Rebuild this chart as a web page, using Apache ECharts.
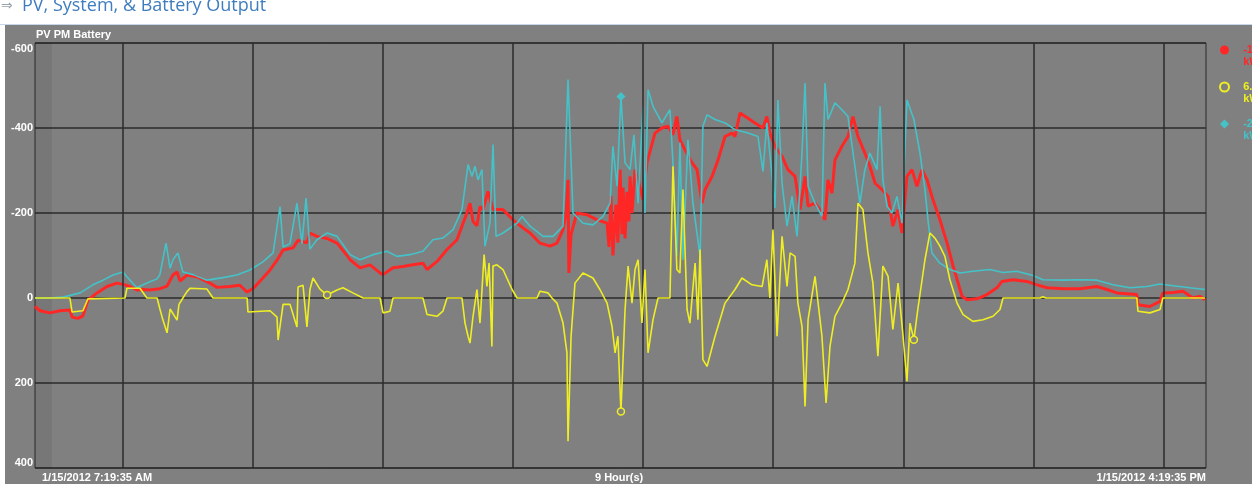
<!DOCTYPE html>
<html>
<head>
<meta charset="utf-8">
<script src="https://cdn.jsdelivr.net/npm/echarts@6/dist/echarts.min.js"></script>
<style>
  html, body { margin: 0; padding: 0; background: #fff; }
  #chart { width: 1252px; height: 484px; }
</style>
</head>
<body>
<div id="chart"></div>
<script>
// minutes after 7:19:35 AM, kW (negative = output, axis drawn inverted)
const pvOutput = [[0,20],[2.3,30],[6.9,35],[11.5,30],[16.1,28],[17.1,45],[19.8,48],[22.1,42],[24.4,5],[28.6,-12],[33.2,-27],[37.8,-35],[40.6,-32],[43.8,-27],[47.0,-19],[49.8,-20],[53.0,-19],[57.6,-22],[60.9,-28],[63.6,-54],[65.5,-61],[66.9,-40],[70.1,-54],[74.7,-50],[80.7,-35],[83.9,-25],[89.9,-27],[94.5,-30],[97.8,-14],[100.5,-22],[105.1,-47],[108.4,-66],[111.6,-89],[114.4,-113],[119.0,-118],[121.3,-136],[125.4,-130],[126.8,-153],[130.0,-145],[134.7,-140],[139.3,-129],[143.9,-100],[145.3,-90],[149.9,-71],[154.5,-78],[159.1,-59],[160.5,-55],[165.1,-71],[169.7,-74],[174.3,-78],[178.9,-82],[180.8,-67],[185.4,-86],[190.0,-114],[194.6,-137],[197.4,-176],[199.2,-200],[200.6,-223],[202.0,-180],[203.8,-170],[205.2,-215],[206.6,-208],[208.9,-251],[211.2,-208],[215.8,-208],[220.4,-184],[225.0,-165],[228.3,-153],[232.9,-129],[237.5,-122],[240.7,-129],[243.5,-161],[244.9,-200],[245.8,-278],[246.2,-59],[247.2,-150],[249.9,-200],[254.5,-196],[259.2,-184],[263.8,-176],[264.7,-120],[265.6,-240],[266.5,-100],[267.9,-220],[268.8,-130],[269.8,-302],[270.7,-150],[271.2,-260],[272.1,-140],[273.0,-250],[273.9,-180],[274.4,-286],[275.3,-200],[276.7,-302],[278.1,-278],[280.4,-231],[282.2,-318],[285.9,-388],[289.1,-400],[291.9,-404],[294.2,-384],[296.0,-427],[297.4,-372],[299.7,-349],[303.0,-318],[305.3,-302],[307.6,-223],[309.0,-255],[312.2,-286],[315.0,-325],[318.2,-380],[321.4,-388],[322.8,-380],[325.1,-435],[328.8,-423],[332.0,-412],[335.7,-400],[337.5,-427],[338.9,-388],[341.2,-357],[344.5,-333],[347.2,-302],[350.5,-286],[352.8,-208],[355.1,-286],[356.5,-216],[359.7,-223],[362.0,-208],[364.3,-184],[365.7,-278],[367.5,-247],[368.9,-325],[372.1,-357],[374.9,-380],[377.2,-427],[379.5,-380],[382.7,-341],[385.0,-310],[387.4,-270],[390.6,-255],[393.4,-239],[395.6,-169],[398.0,-208],[399.8,-153],[402.1,-286],[404.4,-302],[406.7,-263],[409.0,-302],[411.4,-278],[414.1,-231],[417.3,-184],[420.6,-129],[423.4,-75],[425.7,-35],[427.5,-4],[429.8,4],[434.4,2],[439.0,-8],[443.6,-24],[445.9,-39],[451.0,-43],[457.4,-39],[462.1,-31],[466.7,-24],[474.1,-22],[481.9,-22],[489.7,-27],[494.3,-20],[498.9,-12],[508.1,-8],[508.6,16],[514.1,20],[518.8,8],[520.1,-12],[524.8,-13],[529.4,-16],[534.0,0],[537.2,-4],[539.5,4]]

const pmOutput = [[0,0],[16.1,0],[17.1,33],[22.1,30],[24.4,2],[41.5,0],[42.4,-23],[48.4,-23],[51.6,0],[56.3,0],[57.6,26],[59.0,52],[60.9,82],[62.3,26],[65.5,52],[66.4,15],[68.2,0],[70.1,-15],[71.5,-23],[79.3,-21],[82.1,0],[97.8,0],[98.2,33],[108.4,30],[111.6,45],[112.1,99],[114.4,15],[117.6,15],[120.8,68],[121.3,-26],[123.6,-30],[125.4,68],[126.8,-20],[128.2,-47],[131.4,-21],[134.7,-7],[139.3,-19],[142.0,-24],[146.6,-12],[151.3,0],[159.1,0],[160.5,35],[163.7,31],[165.1,0],[178.9,0],[180.8,39],[185.4,43],[188.1,31],[190.0,0],[196.9,0],[198.3,59],[199.7,90],[200.6,106],[202.0,43],[203.8,-20],[205.2,59],[207.1,-102],[208.4,-27],[209.4,-82],[210.7,114],[211.2,-75],[213.0,-78],[215.8,-67],[220.0,-20],[222.3,0],[231.5,0],[232.9,-16],[236.6,-12],[238.4,0],[240.7,12],[243.5,59],[245.3,129],[245.8,337],[247.2,90],[249.0,-35],[252.7,-59],[257.3,-47],[260.5,-20],[263.8,12],[266.1,67],[267.5,129],[268.8,90],[270.2,267],[272.1,27],[273.5,-75],[275.3,12],[276.7,-67],[278.1,-90],[279.9,59],[281.3,-67],[282.7,129],[285.0,51],[287.3,0],[292.8,0],[294.2,-310],[296.0,-67],[297.4,-59],[298.8,-255],[300.7,27],[302.0,59],[304.4,-82],[305.7,51],[306.7,-114],[308.0,145],[309.9,161],[313.6,90],[318.2,12],[322.8,-20],[326.0,-47],[330.6,-31],[335.3,-27],[337.5,-90],[338.9,0],[340.3,-161],[342.2,90],[344.5,-145],[346.8,-27],[348.2,-106],[350.5,-98],[351.8,12],[353.7,67],[355.1,255],[356.5,51],[359.7,-51],[362.9,90],[364.8,247],[366.6,114],[368.9,43],[372.1,12],[374.9,-20],[378.1,-82],[379.5,-223],[381.8,-208],[384.1,-106],[386.4,-35],[388.7,137],[391.0,-75],[393.4,-51],[395.6,74],[398.0,-35],[400.3,90],[402.1,196],[403.5,59],[405.3,98],[407.1,27],[410.4,-90],[412.7,-153],[415.0,-141],[417.3,-122],[419.6,-98],[421.9,-43],[425.2,12],[428.0,39],[432.5,55],[437.2,51],[441.8,43],[445.0,27],[446.4,0],[463.4,0],[464.8,-3],[466.2,0],[508.1,0],[508.6,31],[514.1,35],[518.8,27],[520.1,0],[539.5,0]]

const batteryOutput = [[0,0],[6.9,0],[12.9,-2],[20.8,-12],[26.7,-31],[31.4,-42],[36.0,-54],[40.6,-61],[42.4,-50],[47.0,-24],[49.8,-31],[53.0,-38],[56.3,-45],[57.6,-55],[60.4,-129],[62.3,-70],[63.6,-90],[65.9,-106],[68.2,-61],[72.9,-55],[79.3,-42],[86.7,-48],[93.1,-54],[99.1,-66],[105.1,-85],[109.8,-106],[113.0,-215],[114.4,-120],[117.6,-128],[120.8,-223],[123.1,-128],[125.0,-235],[126.8,-115],[130.0,-137],[134.7,-153],[139.3,-145],[145.3,-102],[149.9,-90],[155.9,-102],[162.3,-110],[166.9,-98],[172.9,-102],[178.9,-110],[183.5,-137],[188.1,-141],[192.8,-161],[196.9,-208],[199.7,-314],[201.5,-286],[202.9,-310],[204.3,-278],[206.1,-302],[207.5,-122],[209.8,-176],[211.2,-361],[212.6,-145],[215.8,-153],[222.3,-176],[224.6,-192],[228.3,-169],[234.3,-145],[238.9,-145],[243.5,-169],[245.8,-514],[248.1,-200],[252.7,-176],[257.3,-172],[261.9,-192],[265.2,-223],[266.5,-357],[268.4,-263],[270.2,-474],[272.1,-318],[274.4,-302],[276.2,-384],[278.1,-223],[280.4,-451],[281.3,-200],[282.7,-490],[285.0,-451],[289.1,-412],[292.8,-443],[294.2,-318],[296.0,-98],[297.4,-365],[298.8,-90],[301.1,-372],[303.4,-223],[306.7,-98],[308.0,-404],[309.9,-431],[313.6,-420],[318.2,-412],[322.8,-396],[328.8,-388],[333.4,-380],[335.7,-298],[337.5,-412],[339.9,-286],[341.2,-212],[342.6,-466],[344.5,-270],[346.8,-169],[349.1,-239],[351.4,-145],[353.7,-341],[355.1,-506],[356.5,-263],[359.7,-223],[362.9,-192],[364.3,-506],[365.7,-420],[368.9,-459],[372.1,-443],[374.9,-427],[378.1,-310],[380.4,-223],[382.7,-302],[385.0,-341],[388.3,-302],[389.7,-451],[391.0,-278],[392.9,-216],[395.2,-200],[397.5,-239],[399.8,-176],[402.1,-466],[405.3,-420],[408.1,-341],[410.4,-255],[411.8,-184],[413.6,-106],[417.3,-82],[421.9,-67],[426.6,-59],[432.5,-63],[440.4,-67],[446.4,-60],[452.8,-63],[460.2,-53],[464.8,-43],[474.1,-42],[481.9,-43],[489.7,-42],[497.1,-31],[504.9,-24],[512.8,-27],[518.8,-33],[524.8,-29],[532.6,-24],[539.5,-20]]

const seriesNames = ['PV', 'PM', 'Battery']
const legendReadings = ['-10.8', '6.3', '-21.5']
const pmMarkTimes = [134.7, 270.2, 405.3]
const batteryMarkTimes = [270.2]
const hourTicks = [8, 9, 10, 11, 12, 13, 14, 15, 16]
const startClock = 7 * 60 + 19 + 35 / 60
const spanMinutes = 540
const earlyBandEnd = 7.8
const startLabel = '1/15/2012 7:19:35 AM'
const endLabel = '1/15/2012 4:19:35 PM'
const spanLabel = '9 Hour(s)'

const hourLines = hourTicks.map(h => h * 60 - startClock)

const colors = ['#ff2626', '#eeee22', '#44c2c8']
const panelGray = '#808080'

const chart = echarts.init(document.getElementById('chart'))

const option = {
  backgroundColor: panelGray,
  animation: false,
  grid: {
    left: 35, top: 43, right: 46, bottom: 16,
    show: true,
    backgroundColor: panelGray,
    borderColor: '#2b2b2b',
    borderWidth: 1
  },
  legend: {
    orient: 'vertical',
    left: 1219,
    top: 32,
    padding: 0,
    itemGap: 1,
    itemWidth: 9,
    itemHeight: 9,
    textStyle: { fontSize: 11, fontWeight: 'bold', lineHeight: 12, fontFamily: 'Liberation Sans, Arial' },
    // blank first line keeps the icon level with the reading line
    formatter: name => '\n   ' + legendReadings[seriesNames.indexOf(name)] + '\n   kW',
    data: [
      { name: seriesNames[0], icon: 'circle', textStyle: { color: colors[0] } },
      { name: seriesNames[1], icon: 'circle', itemStyle: { color: panelGray, borderColor: colors[1], borderWidth: 2 }, textStyle: { color: colors[1] } },
      { name: seriesNames[2], icon: 'diamond', textStyle: { color: colors[2] } }
    ]
  },
  xAxis: {
    type: 'value',
    min: 0,
    max: spanMinutes,
    axisLine: { show: false },
    axisTick: { show: false },
    axisLabel: { show: false },
    splitLine: { show: false }
  },
  yAxis: {
    type: 'value',
    inverse: true,
    min: -600,
    max: 400,
    interval: 200,
    axisLine: { show: false },
    axisTick: { show: false },
    axisLabel: {
      color: '#fff',
      fontSize: 11,
      fontWeight: 'bold',
      fontFamily: 'Liberation Sans, Arial',
      margin: 2,
      verticalAlignMinLabel: 'top',
      verticalAlignMaxLabel: 'bottom'
    },
    splitLine: { lineStyle: { color: '#2b2b2b', width: 1.5 } }
  },
  graphic: [
    { type: 'rect', left: 0, top: 0, shape: { width: 1252, height: 24 }, style: { fill: '#fff' } },
    { type: 'rect', left: 0, top: 24, shape: { width: 1252, height: 1 }, style: { fill: '#c6d7ea' } },
    { type: 'rect', left: 0, top: 25, shape: { width: 5, height: 459 }, style: { fill: '#fff' } },
    { type: 'text', left: 1, top: -1, style: { text: '⇒', fill: '#9aa3ad', font: '14px "DejaVu Sans", sans-serif' } },
    { type: 'text', left: 22, top: -3, style: { text: 'PV, System, & Battery Output', fill: '#3f7dbf', font: '18px "Open Sans", sans-serif' } },
    { type: 'text', left: 36, top: 29, style: { text: 'PV PM Battery', fill: '#fff', font: 'bold 11px "Liberation Sans", Arial' } },
    { type: 'text', left: 42, top: 472, style: { text: startLabel, fill: '#fff', font: 'bold 11px "Liberation Sans", Arial' } },
    { type: 'text', left: 595, top: 472, style: { text: spanLabel, fill: '#fff', font: 'bold 11px "Liberation Sans", Arial' } },
    { type: 'text', right: 46, top: 472, style: { text: endLabel, fill: '#fff', font: 'bold 11px "Liberation Sans", Arial' } }
  ],
  series: [
    {
      name: 'hours',
      type: 'line',
      data: [],
      z: 1,
      silent: true,
      markArea: {
        silent: true,
        itemStyle: { color: 'rgba(0,0,0,0.07)' },
        data: [[{ xAxis: 0 }, { xAxis: earlyBandEnd }]]
      },
      markLine: {
        silent: true,
        symbol: ['none', 'none'],
        label: { show: false },
        lineStyle: { color: '#2b2b2b', width: 1.5, type: 'solid' },
        data: hourLines.map(m => ({ xAxis: m }))
      }
    },
    {
      name: seriesNames[0],
      type: 'line',
      z: 3,
      data: pvOutput,
      showSymbol: false,
      symbol: 'circle',
      lineStyle: { color: colors[0], width: 3 },
      itemStyle: { color: colors[0] }
    },
    {
      name: seriesNames[2],
      type: 'line',
      z: 4,
      data: batteryOutput,
      symbol: (v) => batteryMarkTimes.includes(v[0]) ? 'diamond' : 'none',
      symbolSize: 9,
      showSymbol: true,
      showAllSymbol: true,
      lineStyle: { color: colors[2], width: 1.6 },
      itemStyle: { color: colors[2] }
    },
    {
      name: seriesNames[1],
      type: 'line',
      z: 5,
      data: pmOutput,
      symbol: (v) => pmMarkTimes.includes(v[0]) ? 'circle' : 'none',
      symbolSize: 7,
      showSymbol: true,
      showAllSymbol: true,
      lineStyle: { color: colors[1], width: 1.6 },
      itemStyle: { color: panelGray, borderColor: colors[1], borderWidth: 1.5 }
    }
  ]
}

chart.setOption(option)
</script>
</body>
</html>
